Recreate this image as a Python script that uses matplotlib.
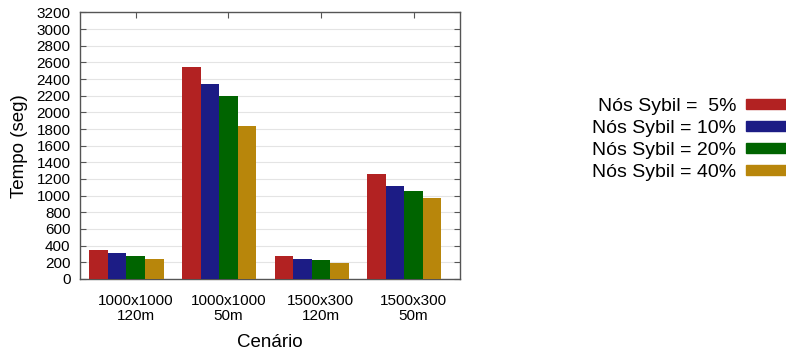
import matplotlib
matplotlib.use("Agg")
import matplotlib.pyplot as plt
import matplotlib.patches as mpatches
import numpy as np

plt.rcParams['font.family'] = ['Liberation Sans', 'DejaVu Sans']

# data
cenarios = ["1000x1000\n120m", "1000x1000\n50m", "1500x300\n120m", "1500x300\n50m"]
series_labels = ["Nós Sybil =  5%", "Nós Sybil = 10%", "Nós Sybil = 20%", "Nós Sybil = 40%"]
sybil_5 = [352, 2547, 272, 1258]
sybil_10 = [306, 2343, 244, 1121]
sybil_20 = [272, 2199, 224, 1053]
sybil_40 = [234, 1834, 193, 969]
colors = ["#b22222", "#1c1c85", "#006400", "#b8860b"]

series = [sybil_5, sybil_10, sybil_20, sybil_40]

fig = plt.figure(figsize=(7.86, 3.54), dpi=100)
ax = fig.add_axes([0.102, 0.212, 0.483, 0.753])

x = np.arange(len(cenarios))
w = 0.2
shift = -0.1  # bars sit a bit left of the tick like in gnuplot
for k, (vals, col) in enumerate(zip(series, colors)):
    ax.bar(x + shift + (k - 1.5) * w, vals, width=w, color=col, label=series_labels[k], zorder=3)

ax.set_xlim(-0.6, 3.5)
ax.set_ylim(0, 3200)
ax.set_yticks(np.arange(0, 3201, 200))
ax.set_xticks(x)
ax.set_xticklabels(cenarios, fontsize=11, linespacing=1.1)
ax.tick_params(axis='y', labelsize=11, direction='in', length=4, right=True, pad=7, color='#555555')
ax.tick_params(axis='x', direction='in', length=4, top=True, pad=11, color='#555555')
ax.grid(axis='y', color='#e4e4e4', linewidth=0.8, zorder=0)
for s in ax.spines.values():
    s.set_color('#555555')
    s.set_linewidth(1.0)

ax.set_ylabel("Tempo (seg)", fontsize=13.5, labelpad=6)
ax.set_xlabel("Cenário", fontsize=13.5, labelpad=8)

handles = [mpatches.Patch(color=c) for c in colors]
fig.legend(handles, series_labels, loc='upper left', bbox_to_anchor=(0.741, 0.75),
           frameon=False, markerfirst=False, fontsize=14, borderpad=0,
           handlelength=3.0, handleheight=0.4, handletextpad=0.5, labelspacing=0.25)

fig.savefig("out.png", dpi=100)
